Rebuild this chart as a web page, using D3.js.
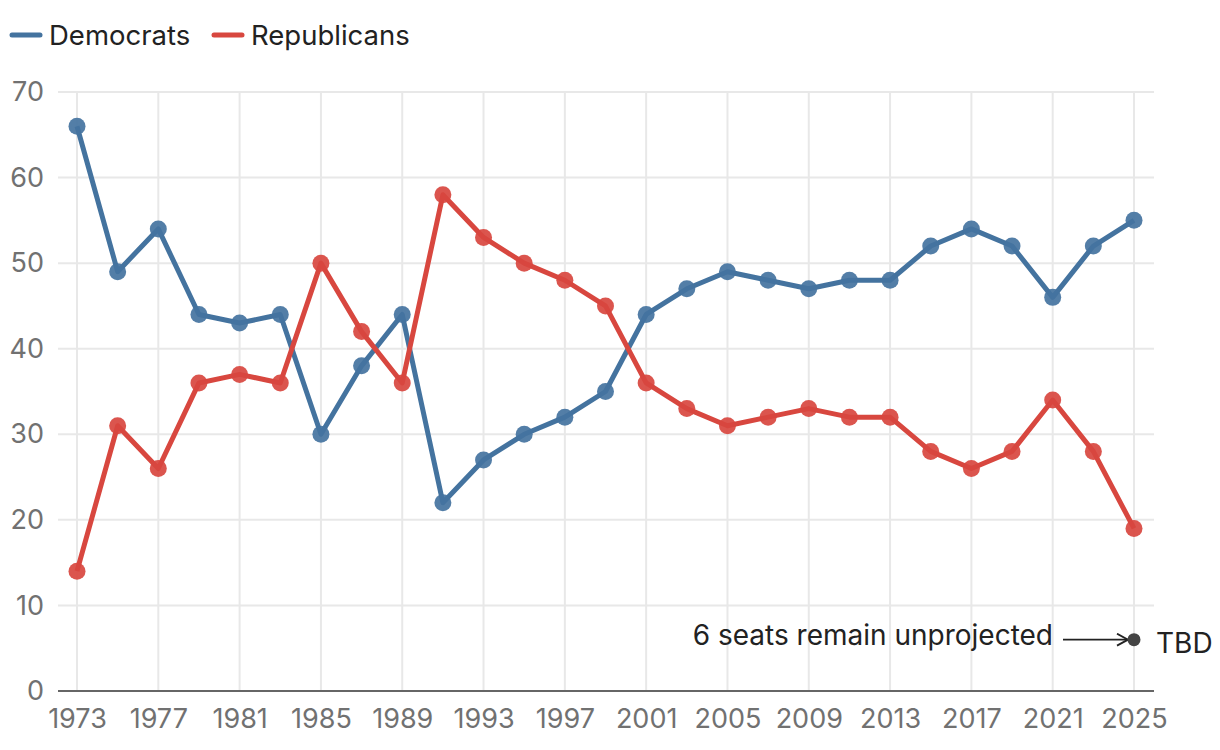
<!DOCTYPE html>
<html><head><meta charset="utf-8">
<script src="https://cdn.jsdelivr.net/npm/d3@7"></script>
<style>body{margin:0;background:#fff;font-family:Inter,"Noto Sans",sans-serif;}</style>
</head><body><svg id="c" width="1220" height="750"></svg>
<script>
const years = [1973,1975,1977,1979,1981,1983,1985,1987,1989,1991,1993,1995,1997,1999,2001,2003,2005,2007,2009,2011,2013,2015,2017,2019,2021,2023,2025];
const democrats = [66,49,54,44,43,44,30,38,44,22,27,30,32,35,44,47,49,48,47,48,48,52,54,52,46,52,55];
const republicans = [14,31,26,36,37,36,50,42,36,58,53,50,48,45,36,33,31,32,33,32,32,28,26,28,34,28,19];
const xTicks = [1973,1977,1981,1985,1989,1993,1997,2001,2005,2009,2013,2017,2021,2025];
const yTicks = [0,10,20,30,40,50,60,70];
const tbdYear = 2025, tbdValue = 6;
const annotation = "6 seats remain unprojected";
const seriesNames = ["Democrats","Republicans"];
const colors = ["#44739f","#d8473f"];

const svg = d3.select("#c");
const x = d3.scaleLinear().domain([1973,2025]).range([77,1134]);
const y = d3.scaleLinear().domain([0,70]).range([691,92]);
const left = 58, right = 1154;
const FS = 27;

// grid
svg.append("g").selectAll("line").data(yTicks.filter(d=>d>0)).join("line")
  .attr("x1",left).attr("x2",right).attr("y1",d=>y(d)).attr("y2",d=>y(d))
  .attr("stroke","#e8e8e8").attr("stroke-width",2);
svg.append("g").selectAll("line").data(xTicks).join("line")
  .attr("x1",d=>x(d)).attr("x2",d=>x(d)).attr("y1",y(70)).attr("y2",y(0))
  .attr("stroke","#e8e8e8").attr("stroke-width",2);

// axes
const xAxis = svg.append("g").attr("transform",`translate(0,${y(0)})`)
  .call(d3.axisBottom(x).tickValues(xTicks).tickFormat(d3.format("d")).tickSize(0).tickPadding(18));
xAxis.select(".domain").remove();
xAxis.append("line").attr("x1",left).attr("x2",right).attr("stroke","#666").attr("stroke-width",2);
xAxis.selectAll("text").attr("font-size",FS).attr("fill","#717171").attr("font-family","Inter");

const yAxis = svg.append("g").attr("transform",`translate(${left},0)`)
  .call(d3.axisLeft(y).tickValues(yTicks).tickSize(0).tickPadding(14));
yAxis.select(".domain").remove();
yAxis.selectAll("text").attr("font-size",FS).attr("fill","#717171").attr("font-family","Inter");

// lines
const series = [democrats, republicans];
const line = d3.line().x((d,i)=>x(years[i])).y(d=>y(d));
series.forEach((vals,k)=>{
  svg.append("path").datum(vals).attr("d",line).attr("fill","none")
    .attr("stroke",colors[k]).attr("stroke-width",5).attr("stroke-linejoin","round");
  svg.append("g").selectAll("circle").data(vals).join("circle")
    .attr("cx",(d,i)=>x(years[i])).attr("cy",d=>y(d)).attr("r",8.5)
    .attr("fill",colors[k]).attr("fill-opacity",0.92);
});

// TBD
svg.append("defs").append("marker").attr("id","arr").attr("viewBox","0 0 14 14")
  .attr("refX",13).attr("refY",7).attr("markerWidth",14).attr("markerHeight",14)
  .attr("markerUnits","userSpaceOnUse").attr("orient","auto")
  .append("path").attr("d","M2,1 L13,7 L2,13").attr("fill","none").attr("stroke","#222").attr("stroke-width",1.8);
svg.append("line").attr("x1",x(tbdYear)-71).attr("x2",x(tbdYear)-6)
  .attr("y1",y(tbdValue)).attr("y2",y(tbdValue)).attr("stroke","#222").attr("stroke-width",1.8)
  .attr("marker-end","url(#arr)");
svg.append("circle").attr("cx",x(tbdYear)).attr("cy",y(tbdValue)).attr("r",6.5).attr("fill","#444");
svg.append("text").attr("x",x(tbdYear)+22).attr("y",y(tbdValue)+4).attr("dy","0.35em")
  .attr("font-size",28).attr("fill","#222").text("TBD");
svg.append("text").attr("x",x(tbdYear)-81).attr("y",y(tbdValue)-4).attr("dy","0.35em")
  .attr("text-anchor","end").attr("font-size",28).attr("fill","#222").text(annotation);

// legend
const lg = svg.append("g");
const lx = [12,214];
seriesNames.forEach((n,k)=>{
  lg.append("line").attr("x1",lx[k]).attr("x2",lx[k]+28).attr("y1",35).attr("y2",35)
    .attr("stroke",colors[k]).attr("stroke-width",5).attr("stroke-linecap","round");
  lg.append("text").attr("x",lx[k]+37).attr("y",35).attr("dy","0.35em")
    .attr("font-size",27.5).attr("fill","#222").text(n);
});
</script></body></html>
